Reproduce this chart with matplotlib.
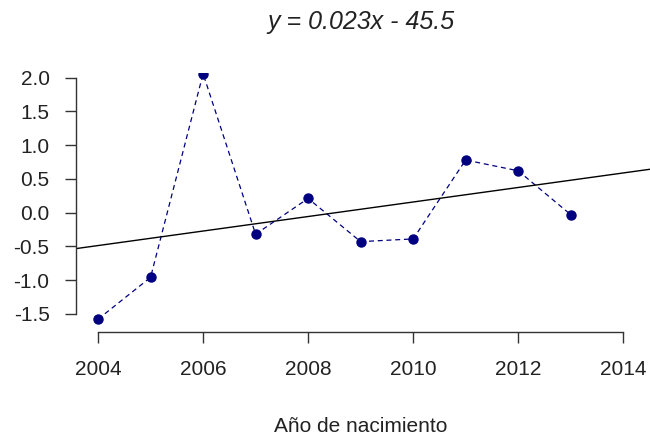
import numpy as np
import matplotlib
matplotlib.use("Agg")
import matplotlib.pyplot as plt
from matplotlib.patches import Rectangle

years = [2004, 2005, 2006, 2007, 2008, 2009, 2010, 2011, 2012, 2013]
values = [-1.58, -0.96, 2.06, -0.32, 0.21, -0.43, -0.39, 0.78, 0.62, -0.03]
xticks = [2004, 2006, 2008, 2010, 2012, 2014]
yticks = [-1.5, -1.0, -0.5, 0.0, 0.5, 1.0, 1.5, 2.0]
title = "y = 0.023x - 45.5"
xlabel = "Año de nacimiento"

plt.rcParams['font.family'] = ['Liberation Sans', 'DejaVu Sans']

W, H = 650, 436
fig = plt.figure(figsize=(6.5, 4.36), dpi=100)
left_px, right_px, top_px, bottom_px = 76, 650, 73, 332
ax = fig.add_axes([left_px / W, 1 - bottom_px / H, (right_px - left_px) / W, (bottom_px - top_px) / H])

ax.plot(years, values, linestyle=(0, (4, 3)), color='#000080', linewidth=0.9,
        marker='o', markersize=6.5, markerfacecolor='#000080', markeredgecolor='#000080')

slope, intercept = np.polyfit(years, values, 1)
xl = np.array([2003.0, 2015.5])
ax.plot(xl, slope * xl + intercept, color='black', linewidth=1.0)

ax.set_xlim(2003.58, 2014.51)
ax.set_ylim(-1.77, 2.07)

ax.spines['top'].set_visible(False)
ax.spines['right'].set_visible(False)
ax.spines['left'].set_bounds(-1.5, 2.0)
ax.spines['bottom'].set_bounds(2004, 2014)
ax.spines['left'].set_linewidth(1.0)
ax.spines['bottom'].set_linewidth(1.0)
ax.spines['left'].set_color('#333333')
ax.spines['bottom'].set_color('#333333')

ax.set_xticks(xticks)
ax.set_xticklabels([str(t) for t in xticks])
ax.set_yticks(yticks)
ax.set_yticklabels([f"{t:.1f}" for t in yticks])
ax.tick_params(axis='both', direction='out', length=8, width=1.0, labelsize=15,
               color='#333333', labelcolor='#222222')
ax.tick_params(axis='x', pad=12)
ax.tick_params(axis='y', pad=11)

# mask marker part above the plot region (R clips to plot region)
fig.patches.append(Rectangle((left_px / W, 1 - top_px / H), 1, top_px / H,
                             transform=fig.transFigure, facecolor='white',
                             edgecolor='none', zorder=1))

fig.text(361 / W, 1 - 21.7 / H, title, ha='center', va='center', fontsize=18,
         style='italic', color='#222222', zorder=5)
fig.text(361 / W, 1 - 426 / H, xlabel, ha='center', va='center', fontsize=15,
         color='#222222', zorder=5)

fig.savefig("out.png", dpi=100)
